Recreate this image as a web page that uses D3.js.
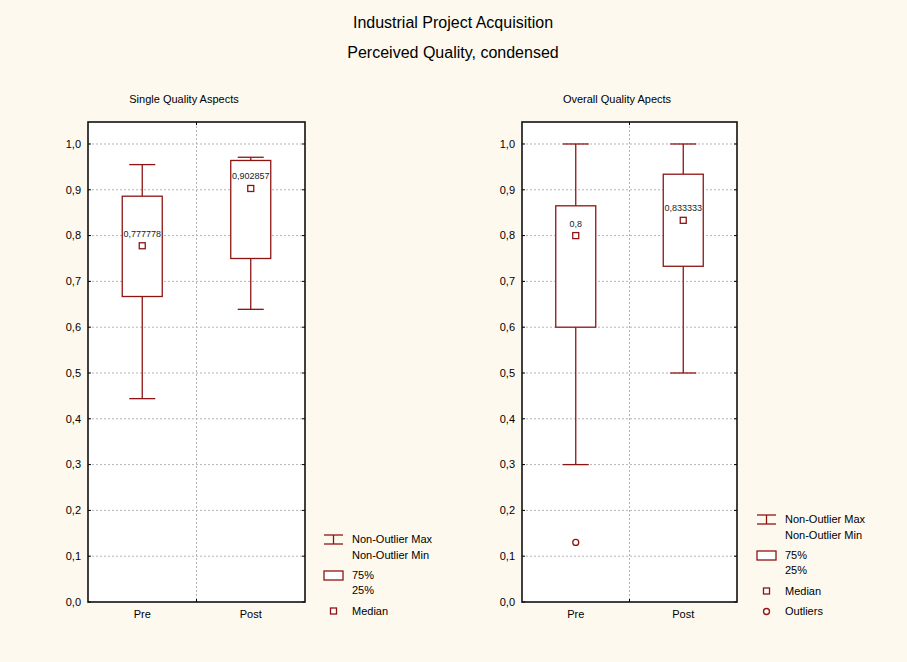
<!DOCTYPE html>
<html>
<head>
<meta charset="utf-8">
<script src="https://cdn.jsdelivr.net/npm/d3@7"></script>
<style>
  body { margin: 0; background: #fdf9ee; }
  svg { display: block; font-family: "Liberation Sans", Arial, sans-serif; }
</style>
</head>
<body>
<script>
// data
const categories = ["Pre", "Post"];
const singleMin = [0.444, 0.639];
const singleQ1 = [0.667, 0.750];
const singleMedian = [0.777778, 0.902857];
const singleQ3 = [0.886, 0.964];
const singleMax = [0.955, 0.971];
const singleMedianLabels = ["0,777778", "0,902857"];

const overallMin = [0.3, 0.5];
const overallQ1 = [0.600, 0.733];
const overallMedian = [0.8, 0.833333];
const overallQ3 = [0.865, 0.934];
const overallMax = [1.0, 1.0];
const overallMedianLabels = ["0,8", "0,833333"];
const overallOutliers = [[0.13], []];

const yTicks = [0, 0.1, 0.2, 0.3, 0.4, 0.5, 0.6, 0.7, 0.8, 0.9, 1.0];

const W = 907, H = 662;
const red = "#8e1414";

const svg = d3.select("body").append("svg")
  .attr("width", W)
  .attr("height", H);

svg.append("rect").attr("width", W).attr("height", H).attr("fill", "#fdf9ee");

svg.append("text").attr("x", 453).attr("y", 28).attr("text-anchor", "middle")
  .style("font-size", "16px").text("Industrial Project Acquisition");
svg.append("text").attr("x", 453).attr("y", 58).attr("text-anchor", "middle")
  .style("font-size", "16px").text("Perceived Quality, condensed");

const fmt = d => d.toFixed(1).replace(".", ",");

function drawPanel(opt) {
  const x0 = opt.x0, x1 = opt.x1, top = 122, bottom = 602;
  const y = d3.scaleLinear().domain([0, 1.048]).range([bottom, top]);
  const x = d3.scaleBand().domain(categories).range([x0, x1]);
  const g = svg.append("g");

  g.append("text").attr("x", (x0 + x1) / 2 - 12.5).attr("y", 102.5).attr("text-anchor", "middle")
    .style("font-size", "11px").text(opt.title);

  g.append("rect").attr("x", x0).attr("y", top).attr("width", x1 - x0).attr("height", bottom - top)
    .attr("fill", "#fff");

  // grid
  g.selectAll(".hgrid").data(yTicks.slice(1)).enter().append("line")
    .attr("x1", x0).attr("x2", x1)
    .attr("y1", d => y(d)).attr("y2", d => y(d))
    .attr("stroke", "#b4b4b4").attr("stroke-dasharray", "2,2");
  const mid = x0 + x.bandwidth();
  g.append("line").attr("x1", mid).attr("x2", mid).attr("y1", top).attr("y2", bottom)
    .attr("stroke", "#b4b4b4").attr("stroke-dasharray", "2,2");

  // y axis labels and inner ticks
  g.selectAll(".ylab").data(yTicks).enter().append("text")
    .attr("x", x0 - 7).attr("y", d => y(d)).attr("dy", "0.35em").attr("text-anchor", "end")
    .style("font-size", "11px").text(fmt);
  g.selectAll(".ltick").data(yTicks).enter().append("line")
    .attr("x1", x0).attr("x2", x0 + 3).attr("y1", d => y(d)).attr("y2", d => y(d))
    .attr("stroke", "#000");
  g.selectAll(".rtick").data(yTicks).enter().append("line")
    .attr("x1", x1 - 3).attr("x2", x1).attr("y1", d => y(d)).attr("y2", d => y(d))
    .attr("stroke", "#000");
  g.append("line").attr("x1", mid).attr("x2", mid).attr("y1", top).attr("y2", top + 3).attr("stroke", "#000");
  g.append("line").attr("x1", mid).attr("x2", mid).attr("y1", bottom - 3).attr("y2", bottom).attr("stroke", "#000");

  g.selectAll(".xlab").data(categories).enter().append("text")
    .attr("x", d => x(d) + x.bandwidth() / 2).attr("y", 618).attr("text-anchor", "middle")
    .style("font-size", "11px").text(d => d);

  // boxes
  const bw = 40, cw = 26;
  categories.forEach((c, i) => {
    const cx = x(c) + x.bandwidth() / 2;
    g.append("line").attr("x1", cx).attr("x2", cx).attr("y1", y(opt.max[i])).attr("y2", y(opt.q3[i]))
      .attr("stroke", red).attr("stroke-width", 1.3);
    g.append("line").attr("x1", cx).attr("x2", cx).attr("y1", y(opt.q1[i])).attr("y2", y(opt.min[i]))
      .attr("stroke", red).attr("stroke-width", 1.3);
    g.append("line").attr("x1", cx - cw / 2).attr("x2", cx + cw / 2)
      .attr("y1", y(opt.max[i])).attr("y2", y(opt.max[i])).attr("stroke", red).attr("stroke-width", 1.3);
    g.append("line").attr("x1", cx - cw / 2).attr("x2", cx + cw / 2)
      .attr("y1", y(opt.min[i])).attr("y2", y(opt.min[i])).attr("stroke", red).attr("stroke-width", 1.3);
    g.append("rect").attr("x", cx - bw / 2).attr("y", y(opt.q3[i]))
      .attr("width", bw).attr("height", y(opt.q1[i]) - y(opt.q3[i]))
      .attr("fill", "#fff").attr("stroke", red).attr("stroke-width", 1.3);
    g.append("rect").attr("x", cx - 3).attr("y", y(opt.median[i]) - 3).attr("width", 6).attr("height", 6)
      .attr("fill", "#fff").attr("stroke", red).attr("stroke-width", 1.3);
    g.append("text").attr("x", cx).attr("y", y(opt.median[i]) - 9).attr("text-anchor", "middle")
      .style("font-size", "9px").attr("fill", "#222").text(opt.labels[i]);
    (opt.outliers ? opt.outliers[i] : []).forEach(v => {
      g.append("circle").attr("cx", cx).attr("cy", y(v)).attr("r", 3)
        .attr("fill", "#fff").attr("stroke", red).attr("stroke-width", 1.3);
    });
  });

  // frame
  g.append("rect").attr("x", x0).attr("y", top).attr("width", x1 - x0).attr("height", bottom - top)
    .attr("fill", "none").attr("stroke", "#111").attr("stroke-width", 1.6);

  // legend
  const lx = opt.legendX, ly = opt.legendY, tx = lx + 28;
  const lg = svg.append("g").style("font-size", "11px");
  lg.append("line").attr("x1", lx).attr("x2", lx + 19).attr("y1", ly).attr("y2", ly).attr("stroke", red).attr("stroke-width", 1.3);
  lg.append("line").attr("x1", lx).attr("x2", lx + 19).attr("y1", ly + 9).attr("y2", ly + 9).attr("stroke", red).attr("stroke-width", 1.3);
  lg.append("line").attr("x1", lx + 9.5).attr("x2", lx + 9.5).attr("y1", ly).attr("y2", ly + 9).attr("stroke", red).attr("stroke-width", 1.3);
  lg.append("text").attr("x", tx).attr("y", ly + 4).attr("dy", "0.35em").text("Non-Outlier Max");
  lg.append("text").attr("x", tx).attr("y", ly + 20).attr("dy", "0.35em").text("Non-Outlier Min");
  lg.append("rect").attr("x", lx).attr("y", ly + 36).attr("width", 19).attr("height", 9)
    .attr("fill", "#fff").attr("stroke", red).attr("stroke-width", 1.3);
  lg.append("text").attr("x", tx).attr("y", ly + 40).attr("dy", "0.35em").text("75%");
  lg.append("text").attr("x", tx).attr("y", ly + 55).attr("dy", "0.35em").text("25%");
  lg.append("rect").attr("x", lx + 6.5).attr("y", ly + 73).attr("width", 6).attr("height", 6)
    .attr("fill", "#fff").attr("stroke", red).attr("stroke-width", 1.3);
  lg.append("text").attr("x", tx).attr("y", ly + 76).attr("dy", "0.35em").text("Median");
  if (opt.outliers) {
    lg.append("circle").attr("cx", lx + 9.5).attr("cy", ly + 96.5).attr("r", 3)
      .attr("fill", "#fff").attr("stroke", red).attr("stroke-width", 1.3);
    lg.append("text").attr("x", tx).attr("y", ly + 96).attr("dy", "0.35em").text("Outliers");
  }
}

drawPanel({
  x0: 88, x1: 305, title: "Single Quality Aspects",
  min: singleMin, q1: singleQ1, median: singleMedian, q3: singleQ3, max: singleMax,
  labels: singleMedianLabels, legendX: 324, legendY: 535
});
drawPanel({
  x0: 522, x1: 737, title: "Overall Quality Apects",
  min: overallMin, q1: overallQ1, median: overallMedian, q3: overallQ3, max: overallMax,
  labels: overallMedianLabels, outliers: overallOutliers, legendX: 757, legendY: 515
});
</script>
</body>
</html>
